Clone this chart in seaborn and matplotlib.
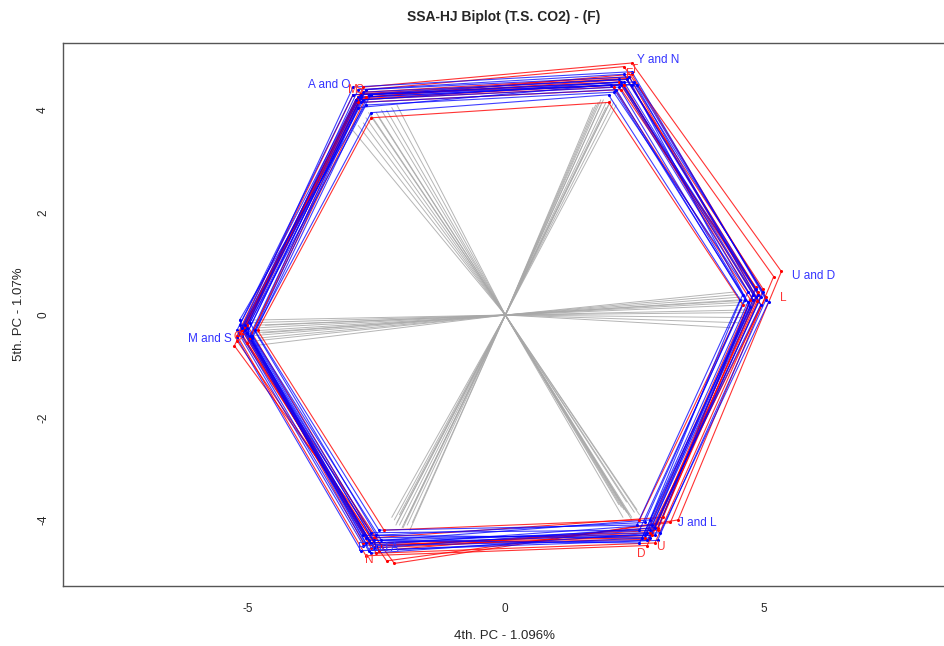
import numpy as np
import pandas as pd
import matplotlib
matplotlib.use("Agg")
import matplotlib.pyplot as plt
import seaborn as sns

# Vertex order for every year polygon: TL, TR, R, BR, BL, L
red_x = [
    [-2.75, 2.45, 5.35, 3.35, -2.15, -5.25],
    [-2.70, 2.30, 5.20, 3.20, -2.30, -5.20],
    [-2.85, 2.35, 5.00, 2.95, -2.45, -5.15],
    [-2.80, 2.20, 4.90, 2.85, -2.60, -5.10],
    [-2.90, 2.10, 4.75, 2.70, -2.75, -5.05],
    [-2.75, 2.40, 4.95, 2.90, -2.50, -4.95],
    [-2.60, 2.00, 4.60, 2.60, -2.35, -4.80],
    [-2.85, 2.25, 4.85, 3.05, -2.55, -5.00],
    [-2.95, 2.30, 4.80, 2.75, -2.70, -5.20],
    [-2.70, 2.45, 5.05, 2.80, -2.40, -5.00],
    [-2.80, 2.35, 4.90, 2.95, -2.55, -5.10],
    [-2.88, 2.28, 4.88, 2.78, -2.62, -5.08],
]
red_y = [
    [4.45, 4.92, 0.85, -4.00, -4.85, -0.60],
    [4.40, 4.85, 0.75, -4.05, -4.80, -0.50],
    [4.25, 4.60, 0.50, -4.15, -4.60, -0.35],
    [4.30, 4.55, 0.40, -4.30, -4.55, -0.30],
    [4.20, 4.45, 0.30, -4.35, -4.45, -0.25],
    [4.35, 4.65, 0.20, -4.45, -4.65, -0.45],
    [3.85, 4.15, 0.20, -4.00, -4.20, -0.30],
    [4.15, 4.40, 0.55, -3.95, -4.35, -0.20],
    [4.30, 4.50, 0.30, -4.50, -4.70, -0.40],
    [4.25, 4.70, 0.35, -4.25, -4.50, -0.55],
    [4.32, 4.62, 0.45, -4.20, -4.52, -0.38],
    [4.22, 4.50, 0.28, -4.38, -4.48, -0.28],
]
blue_x = [
    [-2.80, 2.30, 4.85, 2.75, -2.65, -5.05],
    [-2.85, 2.25, 4.80, 2.70, -2.70, -5.10],
    [-2.75, 2.35, 4.90, 2.80, -2.60, -5.00],
    [-2.90, 2.20, 4.70, 2.65, -2.75, -5.15],
    [-2.70, 2.40, 5.00, 2.90, -2.55, -4.95],
    [-2.80, 2.15, 4.65, 2.60, -2.60, -5.00],
    [-2.65, 2.50, 4.95, 2.75, -2.50, -4.90],
    [-2.95, 2.20, 4.85, 2.85, -2.75, -5.20],
    [-2.85, 2.30, 4.95, 2.80, -2.65, -5.10],
    [-2.60, 2.00, 4.55, 2.55, -2.45, -4.85],
    [-2.80, 2.45, 4.75, 2.60, -2.55, -5.00],
    [-2.75, 2.25, 4.80, 2.90, -2.70, -5.05],
    [-2.70, 2.10, 4.70, 2.70, -2.50, -4.95],
    [-2.95, 2.45, 5.05, 2.95, -2.80, -5.20],
    [-2.85, 2.05, 4.60, 2.80, -2.40, -4.90],
    [-2.60, 2.55, 5.10, 3.00, -2.60, -5.15],
]
blue_y = [
    [4.30, 4.55, 0.35, -4.25, -4.40, -0.30],
    [4.25, 4.50, 0.30, -4.30, -4.35, -0.25],
    [4.35, 4.60, 0.40, -4.20, -4.45, -0.35],
    [4.20, 4.45, 0.25, -4.35, -4.30, -0.20],
    [4.40, 4.65, 0.45, -4.15, -4.55, -0.40],
    [4.15, 4.40, 0.30, -4.20, -4.25, -0.25],
    [4.30, 4.55, 0.20, -4.40, -4.50, -0.45],
    [4.30, 4.60, 0.50, -4.10, -4.50, -0.30],
    [4.40, 4.70, 0.35, -4.35, -4.60, -0.40],
    [3.95, 4.30, 0.30, -4.10, -4.20, -0.30],
    [4.25, 4.50, 0.15, -4.45, -4.40, -0.35],
    [4.20, 4.55, 0.40, -4.30, -4.45, -0.20],
    [4.10, 4.35, 0.45, -4.05, -4.30, -0.15],
    [4.45, 4.75, 0.30, -4.40, -4.60, -0.45],
    [4.05, 4.50, 0.40, -4.00, -4.40, -0.40],
    [4.30, 4.50, 0.25, -4.25, -4.65, -0.10],
]

# Variable vectors (drawn from the origin)
vec_x = [-2.95, -2.85, -2.75, -2.70, -2.60, -2.50, -2.40, -2.30, -2.20, -2.10, -2.65, -2.45,
         1.70, 1.75, 1.80, 1.85, 1.90, 1.95, 2.00, 2.05, 2.10, 1.95, 1.85, 2.15,
         4.45, 4.50, 4.55, 4.60, 4.65, 4.70, 4.75, 4.80, 4.60, 4.50, 4.40, 4.85,
         2.20, 2.25, 2.30, 2.35, 2.40, 2.45, 2.50, 2.55, 2.35, 2.28, 2.45, 2.60,
         -2.20, -2.15, -2.10, -2.05, -2.00, -1.95, -1.90, -1.85, -2.05, -1.98, -2.12, -1.80,
         -4.95, -4.90, -4.85, -4.80, -4.75, -4.90, -4.85, -4.70, -4.80, -4.88, -4.78, -4.65]
vec_y = [3.60, 3.70, 3.75, 3.85, 3.90, 3.95, 4.00, 4.00, 4.05, 4.10, 3.95, 3.85,
         4.05, 4.10, 4.15, 4.10, 4.20, 4.15, 4.10, 4.20, 4.15, 4.05, 4.20, 4.10,
         0.45, 0.40, 0.35, 0.30, 0.25, 0.20, 0.10, 0.05, -0.05, -0.15, -0.25, 0.30,
         -3.70, -3.75, -3.80, -3.85, -3.90, -3.95, -3.85, -3.80, -3.65, -3.95, -4.00, -3.90,
         -3.95, -4.00, -4.05, -4.10, -4.15, -4.05, -4.10, -4.20, -3.90, -4.15, -4.10, -4.05,
         -0.10, -0.15, -0.20, -0.25, -0.30, -0.35, -0.40, -0.35, -0.50, -0.60, -0.45, -0.20]

blue_labels = ["A and O", "Y and N", "U and D", "J and L", "F and A", "M and S"]
blue_label_x = [-3.0, 2.55, 5.55, 3.35, -2.85, -5.3]
blue_label_y = [4.49, 4.97, 0.77, -4.06, -4.55, -0.47]
blue_label_ha = ["right", "left", "left", "left", "left", "right"]

red_labels = ["M", "S", "F", "T", "L", "U", "D", "N", "O"]
red_label_x = [-2.95, -2.82, 2.40, 2.50, 5.38, 3.00, 2.64, -2.63, -5.18]
red_label_y = [4.40, 4.40, 4.70, 4.78, 0.33, -4.53, -4.66, -4.79, -0.43]


def polygons(xs, ys, group):
    rows = []
    for k, (px, py) in enumerate(zip(xs, ys)):
        cx = list(px) + [px[0]]
        cy = list(py) + [py[0]]
        for i, (a, b) in enumerate(zip(cx, cy)):
            rows.append({"x": a, "y": b, "poly": f"{group}{k}", "order": i, "group": group})
    return rows


poly_df = pd.DataFrame(polygons(red_x, red_y, "red") + polygons(blue_x, blue_y, "blue"))

vec_rows = []
for k, (a, b) in enumerate(zip(vec_x, vec_y)):
    vec_rows.append({"x": 0.0, "y": 0.0, "vec": k})
    vec_rows.append({"x": a, "y": b, "vec": k})
vec_df = pd.DataFrame(vec_rows)

sns.set_style("white")
plt.rcParams["font.family"] = ["Liberation Sans", "DejaVu Sans"]

fig = plt.figure(figsize=(9.45, 6.46), dpi=100)
ax = fig.add_axes([0.0667, 0.0929, 0.9333, 0.8405])

sns.lineplot(data=vec_df, x="x", y="y", units="vec", estimator=None, sort=False,
             color="#a8a8a8", lw=0.7, alpha=0.85, ax=ax)

for grp, col, a in [("red", "#ff0000", 0.8), ("blue", "#0000ff", 0.75)]:
    sub = poly_df[poly_df["group"] == grp]
    sns.lineplot(data=sub, x="x", y="y", units="poly", estimator=None, sort=False,
                 color=col, lw=0.8, alpha=a, ax=ax)
    pts = sub[sub["order"] < 6]
    sns.scatterplot(data=pts, x="x", y="y", color=col, s=5, linewidth=0, ax=ax, zorder=3)

for t, x, y, ha in zip(blue_labels, blue_label_x, blue_label_y, blue_label_ha):
    ax.text(x, y, t, color="#3333ff", fontsize=8.5, ha=ha, va="center")
for t, x, y in zip(red_labels, red_label_x, red_label_y):
    ax.text(x, y, t, color="#ff3333", fontsize=8.5, ha="center", va="center")

ax.set_xlim(-8.57, 8.52)
ax.set_ylim(-5.29, 5.31)
ax.set_xticks([-5, 0, 5])
ax.set_yticks([-4, -2, 0, 2, 4])
ax.set_xticklabels(["-5", "0", "5"])
ax.set_yticklabels(["-4", "-2", "0", "2", "4"], rotation=90, va="center")
ax.tick_params(axis="both", length=6, width=0.8, color="#444444", labelsize=8.5)
ax.tick_params(axis="x", pad=6)
ax.tick_params(axis="y", pad=4)
for s in ax.spines.values():
    s.set_color("#555555")
    s.set_linewidth(1.0)

ax.set_xlabel("4th. PC - 1.096%", fontsize=9.5, labelpad=11)
ax.set_ylabel("5th. PC - 1.07%", fontsize=9.5, labelpad=9)
ax.set_title("SSA-HJ Biplot (T.S. CO2) - (F)", fontsize=10, fontweight="bold", pad=16)

fig.savefig("out.png", dpi=100)
